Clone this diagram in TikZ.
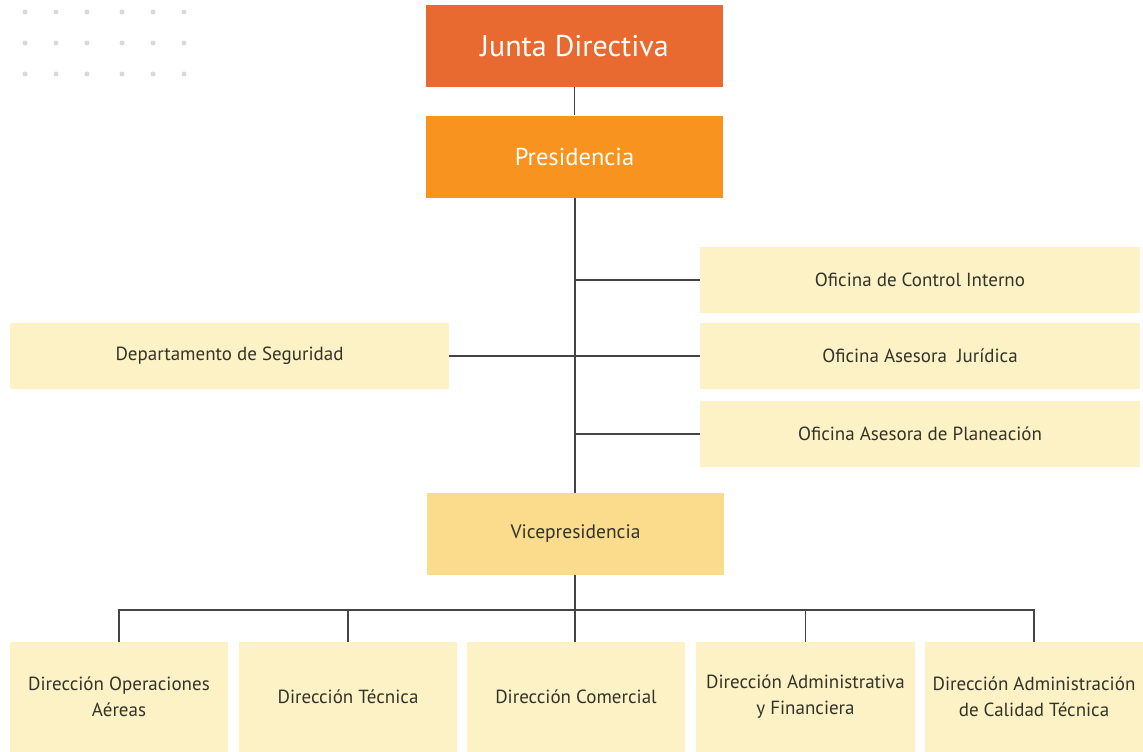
\documentclass[tikz,border=0pt]{standalone}
\usepackage{fontspec}
\setmainfont{PT Sans}
\usepackage{xcolor}
\definecolor{juntaC}{HTML}{E96A30}
\definecolor{presiC}{HTML}{F7931E}
\definecolor{viceC}{HTML}{FADC8C}
\definecolor{paleC}{HTML}{FDF2C5}
\definecolor{textC}{HTML}{33332A}
\definecolor{lineC}{HTML}{444444}
\definecolor{dotC}{HTML}{D9D9D9}

\begin{document}
\begin{tikzpicture}[x=1pt,y=-1pt,
	box/.style={rectangle,inner sep=0pt,text=textC,align=center,font=\fontsize{19}{26}\selectfont},
	topbox/.style={box,minimum width=297pt,minimum height=82pt,text=white},
	sidebox/.style={box,fill=paleC,minimum width=440pt,minimum height=66pt},
	dirbox/.style={box,fill=paleC,minimum width=218pt,minimum height=110pt},
	link/.style={draw=lineC,line width=1.2pt}]
				\useasboundingbox (0,0) rectangle (1143,752);
				% dots in the corner
				\foreach \dx in {25,56,87,122,153,184}
					\foreach \dy in {12,43,74}
						\fill [dotC] (\dx,\dy) circle (2.5);
				% top of the chart
				\node [topbox,fill=juntaC,font=\fontsize{30}{34}\selectfont] (junta) at (574.5,46) {Junta Directiva};
				\node [topbox,fill=presiC,font=\fontsize{24.5}{28}\selectfont] (presi) at (574.5,156.5) {Presidencia};
				\node [topbox,fill=viceC,text=textC,font=\fontsize{19.5}{23}\selectfont] (vice) at (575.5,534) {Vicepresidencia};
				% offices
				\node [sidebox] (control) at (920,280) {Oficina de Control Interno};
				\node [sidebox] (juridica) at (920,356) {Oficina Asesora\ \ Jurídica};
				\node [sidebox] (planea) at (920,434) {Oficina Asesora de Planeación};
				\node [sidebox,minimum width=439pt] (segur) at (229.5,356) {Departamento de Seguridad};
				% directions
				\node [dirbox] (dopera) at (119,697) {Dirección Operaciones\\Aéreas};
				\node [dirbox] (dtecn) at (348,697) {Dirección Técnica};
				\node [dirbox] (dcomer) at (576,697) {Dirección Comercial};
				\node [dirbox,minimum width=219pt] (dadmin) at (805.5,697) {Dirección Administrativa\\y Financiera};
				\node [dirbox] (dcalid) at (1034,697) {Dirección Administración\\de Calidad Técnica};
				% connectors
				\coordinate (bus) at (575,610);
				\draw [link] (junta) -- (presi);
				\draw [link] (presi.south -| bus) -- (vice.north -| bus);
				\draw [link] (control.west) -- (control.west -| bus);
				\draw [link] (planea.west) -- (planea.west -| bus);
				\draw [link] (segur.east) -- (juridica.west);
				\draw [link] (vice.south -| bus) -- (bus);
				\draw [link] (dopera.north) |- (bus) -| (dcalid.north);
				\draw [link] (dtecn.north) -- (dtecn.north |- bus);
				\draw [link] (dcomer.north -| bus) -- (bus);
				\draw [link] (dadmin.north) -- (dadmin.north |- bus);
\end{tikzpicture}
\end{document}
